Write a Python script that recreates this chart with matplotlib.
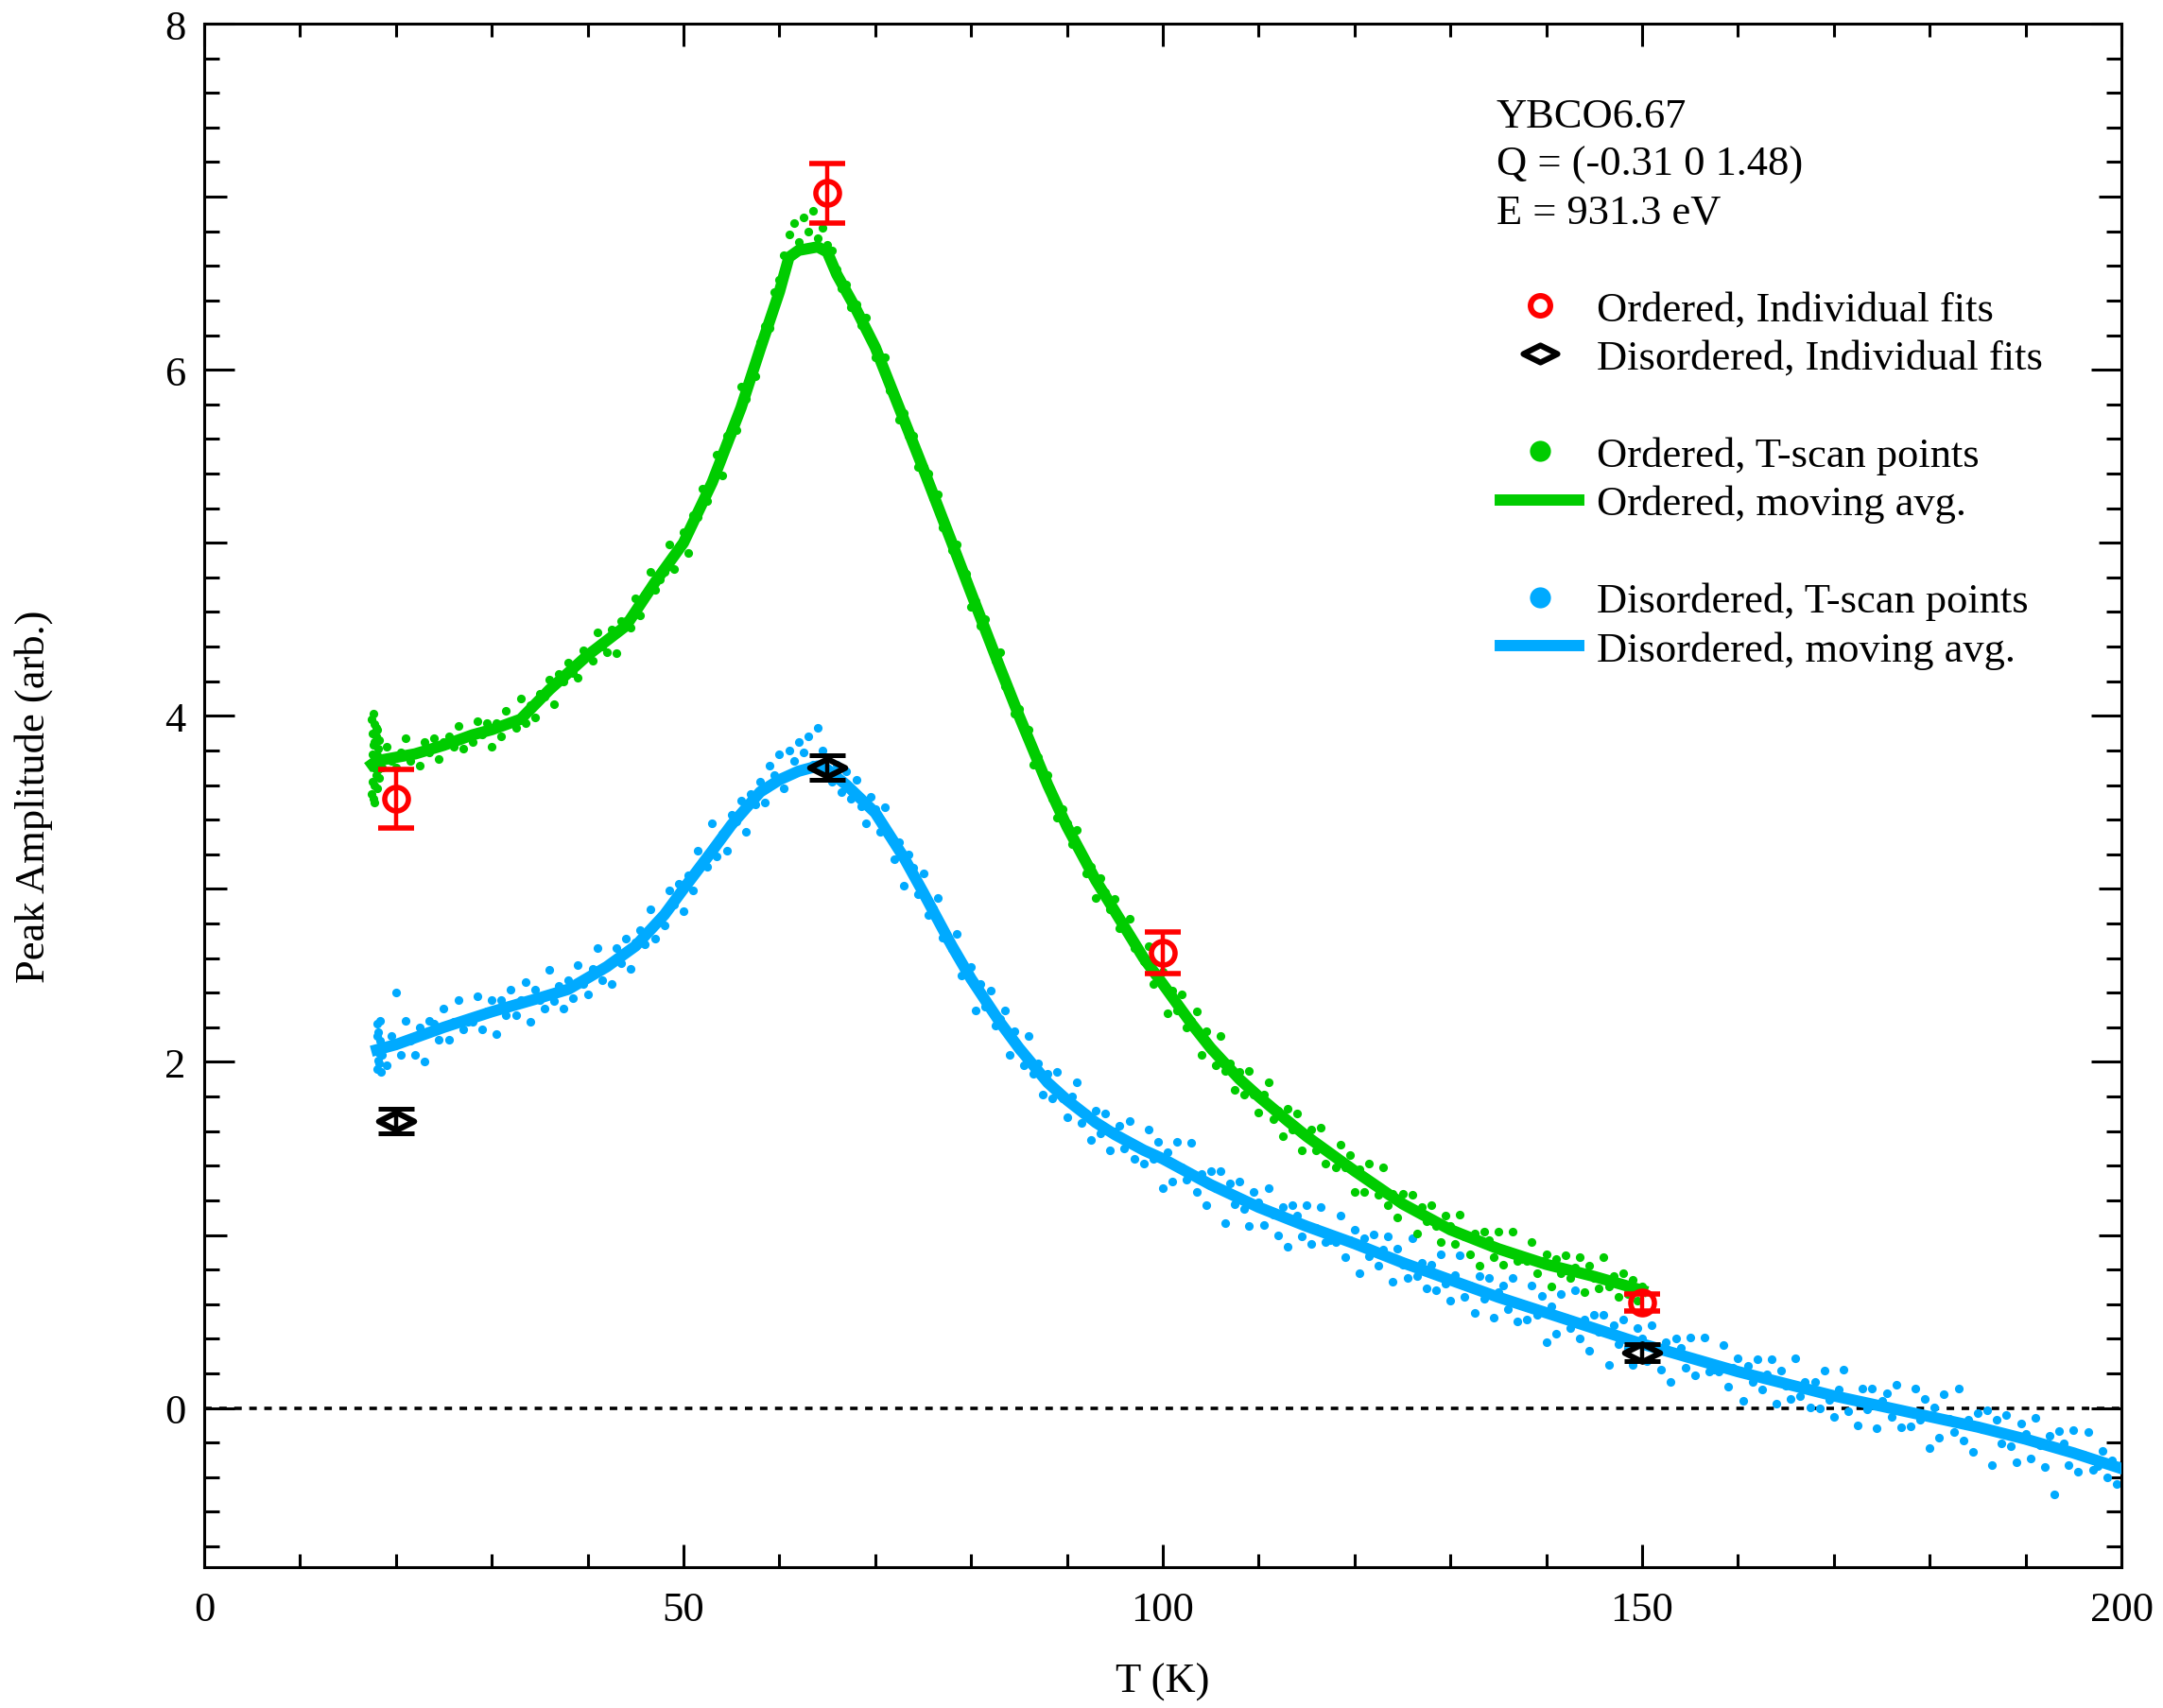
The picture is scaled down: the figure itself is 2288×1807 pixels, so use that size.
import numpy as np
import matplotlib
matplotlib.use("Agg")
import matplotlib.pyplot as plt
from matplotlib.lines import Line2D
from matplotlib.path import Path

plt.rcParams['font.family'] = ['Liberation Serif', 'DejaVu Serif']

GREEN = '#00cc00'
BLUE = '#00aaff'

# ordered peak, T-scan points
T_ORD = [
    18.0, 18.5, 19.0, 19.5, 20.0, 20.5, 21.0, 21.5, 22.0, 22.5, 23.0, 23.5, 24.0, 24.5, 25.0, 25.5, 26.0, 26.5, 27.0, 27.5,
    28.0, 28.5, 29.0, 29.5, 30.0, 30.5, 31.0, 31.5, 32.0, 32.5, 33.0, 33.5, 34.0, 34.5, 35.0, 35.5, 36.0, 36.5, 37.0, 37.5,
    38.0, 38.5, 39.0, 39.5, 40.0, 40.5, 41.0, 41.5, 42.0, 42.5, 43.0, 43.5, 44.0, 44.5, 45.0, 45.5, 46.0, 46.5, 47.0, 47.5,
    48.0, 48.5, 49.0, 49.5, 50.0, 50.5, 51.0, 51.5, 52.0, 52.5, 53.0, 53.5, 54.0, 54.5, 55.0, 55.5, 56.0, 56.5, 57.0, 57.5,
    58.0, 58.5, 59.0, 59.5, 60.0, 60.5, 61.0, 61.5, 62.0, 62.5, 63.0, 63.5, 64.0, 64.5, 65.0, 65.5, 66.0, 66.5, 67.0, 67.5,
    68.0, 68.5, 69.0, 69.5, 70.0, 70.5, 71.0, 71.5, 72.0, 72.5, 73.0, 73.5, 74.0, 74.5, 75.0, 75.5, 76.0, 76.5, 77.0, 77.5,
    78.0, 78.5, 79.0, 79.5, 80.0, 80.5, 81.0, 81.5, 82.0, 82.5, 83.0, 83.5, 84.0, 84.5, 85.0, 85.5, 86.0, 86.5, 87.0, 87.5,
    88.0, 88.5, 89.0, 89.5, 90.0, 90.5, 91.0, 91.5, 92.0, 92.5, 93.0, 93.5, 94.0, 94.5, 95.0, 95.5, 96.0, 96.5, 97.0, 97.5,
    98.0, 98.5, 99.0, 99.5, 100.0, 100.5, 101.0, 101.5, 102.0, 102.5, 103.0, 103.5, 104.0, 104.5, 105.0, 105.5, 106.0, 106.5, 107.0, 107.5,
    108.0, 108.5, 109.0, 109.5, 110.0, 110.5, 111.0, 111.5, 112.0, 112.5, 113.0, 113.5, 114.0, 114.5, 115.0, 115.5, 116.0, 116.5, 117.0, 117.5,
    118.0, 118.5, 119.0, 119.5, 120.0, 120.5, 121.0, 121.5, 122.0, 122.5, 123.0, 123.5, 124.0, 124.5, 125.0, 125.5, 126.0, 126.5, 127.0, 127.5,
    128.0, 128.5, 129.0, 129.5, 130.0, 130.5, 131.0, 131.5, 132.0, 132.5, 133.0, 133.5, 134.0, 134.5, 135.0, 135.5, 136.0, 136.5, 137.0, 137.5,
    138.0, 138.5, 139.0, 139.5, 140.0, 140.5, 141.0, 141.5, 142.0, 142.5, 143.0, 143.5, 144.0, 144.5, 145.0, 145.5, 146.0, 146.5, 147.0, 147.5,
    148.0, 148.5, 149.0, 149.5, 150.0]
AMP_ORD = [
    3.77, 3.70, 3.82, 3.74, 3.70, 3.79, 3.87, 3.74, 3.79, 3.71, 3.85, 3.79, 3.87, 3.75, 3.85, 3.88, 3.82, 3.94, 3.81, 3.88,
    3.85, 3.97, 3.89, 3.96, 3.82, 3.96, 3.88, 4.03, 3.97, 3.93, 4.10, 3.96, 4.06, 3.99, 4.13, 4.11, 4.21, 4.07, 4.24, 4.20,
    4.31, 4.25, 4.22, 4.38, 4.37, 4.32, 4.48, 4.40, 4.37, 4.50, 4.36, 4.55, 4.55, 4.51, 4.68, 4.58, 4.70, 4.83, 4.73, 4.79,
    4.83, 4.99, 4.85, 4.97, 5.06, 4.94, 5.16, 5.15, 5.31, 5.24, 5.37, 5.51, 5.39, 5.62, 5.63, 5.65, 5.90, 5.83, 5.98, 5.96,
    6.16, 6.25, 6.24, 6.45, 6.52, 6.66, 6.78, 6.85, 6.74, 6.88, 6.80, 6.92, 6.76, 6.82, 6.72, 6.69, 6.58, 6.47, 6.49, 6.36,
    6.38, 6.26, 6.30, 6.18, 6.07, 6.08, 6.07, 5.88, 5.86, 5.71, 5.75, 5.62, 5.62, 5.44, 5.44, 5.40, 5.26, 5.28, 5.09, 5.07,
    4.96, 4.99, 4.85, 4.82, 4.63, 4.66, 4.52, 4.56, 4.43, 4.32, 4.37, 4.17, 4.15, 4.01, 4.04, 3.92, 3.92, 3.72, 3.76, 3.65,
    3.66, 3.52, 3.41, 3.46, 3.38, 3.26, 3.34, 3.20, 3.09, 3.13, 2.95, 3.06, 2.98, 2.88, 2.94, 2.77, 2.79, 2.83, 2.66, 2.63,
    2.58, 2.67, 2.45, 2.50, 2.52, 2.28, 2.41, 2.30, 2.39, 2.20, 2.24, 2.29, 2.04, 2.18, 2.07, 1.98, 2.15, 1.95, 1.99, 1.84,
    1.94, 1.81, 1.95, 1.81, 1.71, 1.81, 1.88, 1.67, 1.72, 1.57, 1.73, 1.61, 1.70, 1.49, 1.59, 1.61, 1.49, 1.62, 1.41, 1.47,
    1.39, 1.52, 1.39, 1.46, 1.25, 1.38, 1.25, 1.41, 1.30, 1.23, 1.39, 1.17, 1.24, 1.10, 1.24, 1.16, 1.23, 1.01, 1.16, 1.08,
    1.17, 1.05, 0.96, 1.11, 1.05, 0.95, 1.12, 0.99, 0.89, 1.01, 0.82, 1.02, 0.97, 0.87, 1.02, 0.83, 0.91, 1.02, 0.85, 0.86,
    0.85, 0.96, 0.78, 0.85, 0.89, 0.70, 0.86, 0.78, 0.88, 0.75, 0.81, 0.87, 0.67, 0.82, 0.75, 0.69, 0.87, 0.70, 0.76, 0.64,
    0.78, 0.66, 0.74, 0.62, 0.70]
# the base-temperature cluster
T_ORD_BASE = [17.5, 17.5, 17.6, 17.6, 17.6, 17.7, 17.7, 17.7, 17.8, 17.8, 17.8, 17.9,
              17.9, 17.9, 18.0, 18.0, 18.1, 18.1, 18.2, 18.2, 17.6, 17.7, 17.8, 17.9]
AMP_ORD_BASE = [3.98, 3.55, 3.90, 3.62, 3.78, 4.01, 3.70, 3.52, 3.85, 3.60, 3.95, 3.66,
                3.88, 3.74, 3.58, 3.92, 3.69, 3.81, 3.64, 3.86, 3.71, 3.83, 3.50, 3.93]

# disordered peak, T-scan points
T_DIS = [
    18.0, 18.5, 19.0, 19.5, 20.0, 20.5, 21.0, 21.5, 22.0, 22.5, 23.0, 23.5, 24.0, 24.5, 25.0, 25.5, 26.0, 26.5, 27.0, 27.5,
    28.0, 28.5, 29.0, 29.5, 30.0, 30.5, 31.0, 31.5, 32.0, 32.5, 33.0, 33.5, 34.0, 34.5, 35.0, 35.5, 36.0, 36.5, 37.0, 37.5,
    38.0, 38.5, 39.0, 39.5, 40.0, 40.5, 41.0, 41.5, 42.0, 42.5, 43.0, 43.5, 44.0, 44.5, 45.0, 45.5, 46.0, 46.5, 47.0, 47.5,
    48.0, 48.5, 49.0, 49.5, 50.0, 50.5, 51.0, 51.5, 52.0, 52.5, 53.0, 53.5, 54.0, 54.5, 55.0, 55.5, 56.0, 56.5, 57.0, 57.5,
    58.0, 58.5, 59.0, 59.5, 60.0, 60.5, 61.0, 61.5, 62.0, 62.5, 63.0, 63.5, 64.0, 64.5, 65.0, 65.5, 66.0, 66.5, 67.0, 67.5,
    68.0, 68.5, 69.0, 69.5, 70.0, 70.5, 71.0, 71.5, 72.0, 72.5, 73.0, 73.5, 74.0, 74.5, 75.0, 75.5, 76.0, 76.5, 77.0, 77.5,
    78.0, 78.5, 79.0, 79.5, 80.0, 80.5, 81.0, 81.5, 82.0, 82.5, 83.0, 83.5, 84.0, 84.5, 85.0, 85.5, 86.0, 86.5, 87.0, 87.5,
    88.0, 88.5, 89.0, 89.5, 90.0, 90.5, 91.0, 91.5, 92.0, 92.5, 93.0, 93.5, 94.0, 94.5, 95.0, 95.5, 96.0, 96.5, 97.0, 97.5,
    98.0, 98.5, 99.0, 99.5, 100.0, 100.5, 101.0, 101.5, 102.0, 102.5, 103.0, 103.5, 104.0, 104.5, 105.0, 105.5, 106.0, 106.5, 107.0, 107.5,
    108.0, 108.5, 109.0, 109.5, 110.0, 110.5, 111.0, 111.5, 112.0, 112.5, 113.0, 113.5, 114.0, 114.5, 115.0, 115.5, 116.0, 116.5, 117.0, 117.5,
    118.0, 118.5, 119.0, 119.5, 120.0, 120.5, 121.0, 121.5, 122.0, 122.5, 123.0, 123.5, 124.0, 124.5, 125.0, 125.5, 126.0, 126.5, 127.0, 127.5,
    128.0, 128.5, 129.0, 129.5, 130.0, 130.5, 131.0, 131.5, 132.0, 132.5, 133.0, 133.5, 134.0, 134.5, 135.0, 135.5, 136.0, 136.5, 137.0, 137.5,
    138.0, 138.5, 139.0, 139.5, 140.0, 140.5, 141.0, 141.5, 142.0, 142.5, 143.0, 143.5, 144.0, 144.5, 145.0, 145.5, 146.0, 146.5, 147.0, 147.5,
    148.0, 148.5, 149.0, 149.5, 150.0, 150.5, 151.0, 151.5, 152.0, 152.5, 153.0, 153.5, 154.0, 154.5, 155.0, 155.5, 156.0, 156.5, 157.0, 157.5,
    158.0, 158.5, 159.0, 159.5, 160.0, 160.5, 161.0, 161.5, 162.0, 162.5, 163.0, 163.5, 164.0, 164.5, 165.0, 165.5, 166.0, 166.5, 167.0, 167.5,
    168.0, 168.5, 169.0, 169.5, 170.0, 170.5, 171.0, 171.5, 172.0, 172.5, 173.0, 173.5, 174.0, 174.5, 175.0, 175.5, 176.0, 176.5, 177.0, 177.5,
    178.0, 178.5, 179.0, 179.5, 180.0, 180.5, 181.0, 181.5, 182.0, 182.5, 183.0, 183.5, 184.0, 184.5, 185.0, 185.5, 186.0, 186.5, 187.0, 187.5,
    188.0, 188.5, 189.0, 189.5, 190.0, 190.5, 191.0, 191.5, 192.0, 192.5, 193.0, 193.5, 194.0, 194.5, 195.0, 195.5, 196.0, 196.5, 197.0, 197.5,
    198.0, 198.5, 199.0, 199.5, 200.0]
AMP_DIS = [
    2.15, 2.04, 1.98, 2.15, 2.40, 2.04, 2.24, 2.12, 2.04, 2.20, 2.00, 2.24, 2.22, 2.13, 2.31, 2.13, 2.23, 2.36, 2.19, 2.23,
    2.23, 2.38, 2.19, 2.29, 2.36, 2.16, 2.36, 2.27, 2.42, 2.27, 2.36, 2.46, 2.23, 2.42, 2.36, 2.31, 2.53, 2.35, 2.44, 2.31,
    2.47, 2.37, 2.56, 2.45, 2.39, 2.54, 2.66, 2.47, 2.56, 2.45, 2.66, 2.57, 2.71, 2.54, 2.69, 2.76, 2.68, 2.88, 2.71, 2.82,
    2.79, 2.99, 2.91, 3.03, 2.87, 3.08, 2.99, 3.22, 3.16, 3.13, 3.38, 3.19, 3.32, 3.22, 3.43, 3.39, 3.51, 3.33, 3.55, 3.49,
    3.62, 3.50, 3.71, 3.66, 3.78, 3.58, 3.80, 3.74, 3.85, 3.79, 3.88, 3.72, 3.93, 3.80, 3.76, 3.62, 3.72, 3.56, 3.68, 3.52,
    3.63, 3.48, 3.38, 3.53, 3.46, 3.33, 3.47, 3.30, 3.17, 3.27, 3.02, 3.20, 3.12, 2.97, 3.09, 2.85, 2.89, 2.95, 2.72, 2.70,
    2.65, 2.74, 2.50, 2.54, 2.55, 2.30, 2.45, 2.32, 2.41, 2.21, 2.25, 2.30, 2.04, 2.18, 2.07, 1.98, 2.15, 1.93, 1.99, 1.81,
    1.93, 1.79, 1.94, 1.79, 1.68, 1.80, 1.88, 1.65, 1.70, 1.55, 1.72, 1.59, 1.70, 1.49, 1.60, 1.63, 1.50, 1.66, 1.44, 1.51,
    1.41, 1.61, 1.44, 1.54, 1.27, 1.48, 1.31, 1.54, 1.39, 1.32, 1.53, 1.25, 1.35, 1.17, 1.37, 1.27, 1.37, 1.07, 1.30, 1.18,
    1.31, 1.15, 1.05, 1.25, 1.19, 1.06, 1.27, 1.12, 1.00, 1.16, 0.93, 1.17, 1.11, 0.99, 1.17, 0.95, 1.04, 1.16, 0.96, 0.97,
    0.96, 1.11, 0.87, 0.97, 1.03, 0.78, 0.98, 0.875, 1.005, 0.825, 0.915, 0.99, 0.73, 0.92, 0.83, 0.75, 0.98, 0.76, 0.84, 0.69,
    0.83, 0.68, 0.89, 0.72, 0.62, 0.77, 0.88, 0.64, 0.71, 0.55, 0.76, 0.63, 0.75, 0.52, 0.67, 0.71, 0.57, 0.75, 0.50, 0.60,
    0.51, 0.71, 0.54, 0.65, 0.38, 0.59, 0.43, 0.66, 0.52, 0.46, 0.68, 0.40, 0.51, 0.33, 0.54, 0.44, 0.54, 0.25, 0.48, 0.37,
    0.51, 0.35, 0.25, 0.46, 0.40, 0.27, 0.48, 0.34, 0.22, 0.38, 0.15, 0.40, 0.35, 0.23, 0.41, 0.19, 0.28, 0.41, 0.21, 0.22,
    0.21, 0.365, 0.125, 0.23, 0.29, 0.04, 0.245, 0.15, 0.28, 0.105, 0.195, 0.28, 0.025, 0.215, 0.13, 0.05, 0.285, 0.07, 0.15, 0.005,
    0.15, 0.0, 0.215, 0.045, -0.05, 0.105, 0.22, -0.02, 0.055, -0.10, 0.115, -0.01, 0.11, -0.115, 0.04, 0.085, -0.05, 0.135, -0.11, -0.02,
    -0.105, 0.11, -0.07, 0.055, -0.23, 0.005, -0.17, 0.08, -0.065, -0.14, 0.115, -0.19, -0.07, -0.255, -0.03, -0.125, -0.015, -0.33, -0.07, -0.205,
    -0.04, -0.22, -0.315, -0.09, -0.15, -0.29, -0.055, -0.215, -0.34, -0.16, -0.50, -0.135, -0.205, -0.33, -0.13, -0.37, -0.27, -0.14, -0.355, -0.335,
    -0.25, -0.40, -0.30, -0.44, -0.33]
T_DIS_BASE = [18.0, 18.0, 18.1, 18.1, 18.2, 18.2, 18.3, 18.3, 18.4, 18.4]
AMP_DIS_BASE = [1.96, 2.22, 2.01, 2.17, 2.05, 1.99, 2.12, 2.24, 1.94, 2.08]

# moving averages
T_ORD_AVG = [17.5, 18, 20, 22, 25, 28, 30, 33, 36, 40, 44, 47, 50, 53, 56, 58, 60, 61, 62, 64, 65, 66,
             68, 70, 72, 75, 78, 80, 83, 85, 88, 90, 93, 95, 98, 100, 103, 105, 108, 110, 113, 115,
             118, 120, 125, 130, 135, 140, 145, 150]
AMP_ORD_AVG = [3.72, 3.74, 3.76, 3.78, 3.83, 3.89, 3.92, 3.98, 4.15, 4.35, 4.52, 4.77, 5.0, 5.35, 5.78,
               6.12, 6.45, 6.65, 6.69, 6.71, 6.68, 6.55, 6.35, 6.13, 5.85, 5.43, 5.0, 4.71, 4.28, 4.0,
               3.6, 3.36, 3.05, 2.87, 2.6, 2.45, 2.22, 2.08, 1.9, 1.8, 1.66, 1.57, 1.45, 1.37, 1.18,
               1.03, 0.92, 0.83, 0.76, 0.68]
T_DIS_AVG = [18, 20, 25, 30, 35, 38, 42, 45, 48, 50, 53, 55, 58, 60, 62, 64, 65, 67, 70, 73, 75, 78, 80,
             83, 85, 88, 90, 93, 95, 98, 100, 105, 110, 115, 120, 125, 130, 135, 140, 145, 150, 155,
             160, 165, 170, 175, 180, 185, 190, 195, 200]
AMP_DIS_AVG = [2.07, 2.10, 2.20, 2.29, 2.37, 2.42, 2.55, 2.67, 2.85, 3.0, 3.22, 3.37, 3.56, 3.63, 3.68,
               3.71, 3.69, 3.60, 3.44, 3.18, 2.98, 2.67, 2.48, 2.23, 2.08, 1.88, 1.78, 1.65, 1.58, 1.49,
               1.44, 1.29, 1.16, 1.05, 0.95, 0.84, 0.74, 0.64, 0.55, 0.46, 0.37, 0.29, 0.21, 0.14, 0.07,
               0.01, -0.05, -0.11, -0.18, -0.26, -0.35]

# individual fits
T_FIT_ORD = [20, 65, 100, 150]
AMP_FIT_ORD = [3.52, 7.02, 2.63, 0.61]
ERR_FIT_ORD = [0.17, 0.17, 0.12, 0.05]
T_FIT_DIS = [20, 65, 150]
AMP_FIT_DIS = [1.66, 3.70, 0.32]
ERR_FIT_DIS = [0.07, 0.07, 0.05]

DIAMOND = Path([(-1, 0), (0, 0.5), (1, 0), (0, -0.5), (-1, 0)],
               [Path.MOVETO, Path.LINETO, Path.LINETO, Path.LINETO, Path.CLOSEPOLY])

FS = 16

fig = plt.figure(figsize=(11.44, 9.04), dpi=200)
ax = fig.add_axes([0.0944, 0.0824, 0.8864, 0.9032])

ax.axhline(0, color='black', lw=1.3, ls=(0, (2.2, 2.2)), zorder=1)

ax.plot(T_DIS, AMP_DIS, 'o', color=BLUE, ms=3.3, mew=0, zorder=2)
ax.plot(T_DIS_BASE, AMP_DIS_BASE, 'o', color=BLUE, ms=3.3, mew=0, zorder=2)
ax.plot(T_DIS_AVG, AMP_DIS_AVG, '-', color=BLUE, lw=4.3, solid_joinstyle='round', zorder=3)
ax.plot(T_ORD, AMP_ORD, 'o', color=GREEN, ms=3.3, mew=0, zorder=4)
ax.plot(T_ORD_BASE, AMP_ORD_BASE, 'o', color=GREEN, ms=3.3, mew=0, zorder=4)
ax.plot(T_ORD_AVG, AMP_ORD_AVG, '-', color=GREEN, lw=4.3, solid_joinstyle='round', zorder=5)

ax.errorbar(T_FIT_ORD, AMP_FIT_ORD, yerr=ERR_FIT_ORD, fmt='o', mfc='none', mec='red',
            ecolor='red', ms=9, mew=2, capsize=7, capthick=1.6, elinewidth=1.6, zorder=6)
ax.errorbar(T_FIT_DIS, AMP_FIT_DIS, yerr=ERR_FIT_DIS, fmt='none', ecolor='black',
            capsize=7, capthick=1.8, elinewidth=1.6, zorder=6)
ax.plot(T_FIT_DIS, AMP_FIT_DIS, ls='', marker=DIAMOND, mfc='none', mec='black', ms=13.5,
        mew=2.2, zorder=7)

ax.set_xlim(0, 200)
ax.set_ylim(-0.92, 8)
ax.set_xticks([0, 50, 100, 150, 200])
ax.set_xticks(np.arange(0, 201, 10), minor=True)
ax.set_yticks([0, 1, 2, 3, 4, 5, 6, 7, 8])
ax.set_yticklabels(['0', '', '2', '', '4', '', '6', '', '8'])
ax.set_yticks(np.arange(-0.8, 8.01, 0.2), minor=True)
ax.tick_params(which='both', direction='in', top=True, right=True, width=1.1, labelsize=FS)
ax.tick_params(axis='x', which='major', length=8.6, pad=9)
ax.tick_params(axis='x', which='minor', length=5)
ax.tick_params(axis='y', which='major', length=11.5, pad=7)
ax.tick_params(axis='y', which='minor', length=5.8)
for s in ax.spines.values():
    s.set_linewidth(1.1)

# odd integers get a medium-length tick
for tk, v in zip(ax.yaxis.get_major_ticks(), [0, 1, 2, 3, 4, 5, 6, 7, 8]):
    if v % 2 == 1:
        tk.tick1line.set_markersize(8.6)
        tk.tick2line.set_markersize(8.6)

ax.set_xlabel('T (K)', fontsize=FS)
ax.set_ylabel('Peak Amplitude (arb.)', fontsize=FS)
ax.xaxis.label.set_va('center')
ax.yaxis.label.set_va('center')
ax.xaxis.set_label_coords(0.5, -0.074)
ax.yaxis.set_label_coords(-0.089, 0.5)

info = ['YBCO6.67', 'Q = (-0.31 0 1.48)', 'E = 931.3 eV']
for i, s in enumerate(info):
    ax.text(0.674, 0.940 - i * 0.0313, s, transform=ax.transAxes, fontsize=FS,
            ha='left', va='center')

blank = Line2D([], [], ls='', marker='')
handles = [
    Line2D([], [], ls='', marker='o', mfc='white', mec='red', ms=7.5, mew=2.2),
    Line2D([], [], ls='', marker=DIAMOND, mfc='white', mec='black', ms=13, mew=2.2),
    blank,
    Line2D([], [], ls='', marker='o', color=GREEN, ms=8, mew=0),
    Line2D([], [], color=GREEN, lw=4.3),
    blank,
    Line2D([], [], ls='', marker='o', color=BLUE, ms=8, mew=0),
    Line2D([], [], color=BLUE, lw=4.3),
]
labels = ['Ordered, Individual fits', 'Disordered, Individual fits', ' ',
          'Ordered, T-scan points', 'Ordered, moving avg.', ' ',
          'Disordered, T-scan points', 'Disordered, moving avg.']
ax.legend(handles, labels, loc='upper left', bbox_to_anchor=(0.676, 0.827), frameon=False,
          borderpad=0, borderaxespad=0, handlelength=1.87, handletextpad=0.43,
          labelspacing=0.25, fontsize=FS)

fig.savefig('out.png', dpi=200)
